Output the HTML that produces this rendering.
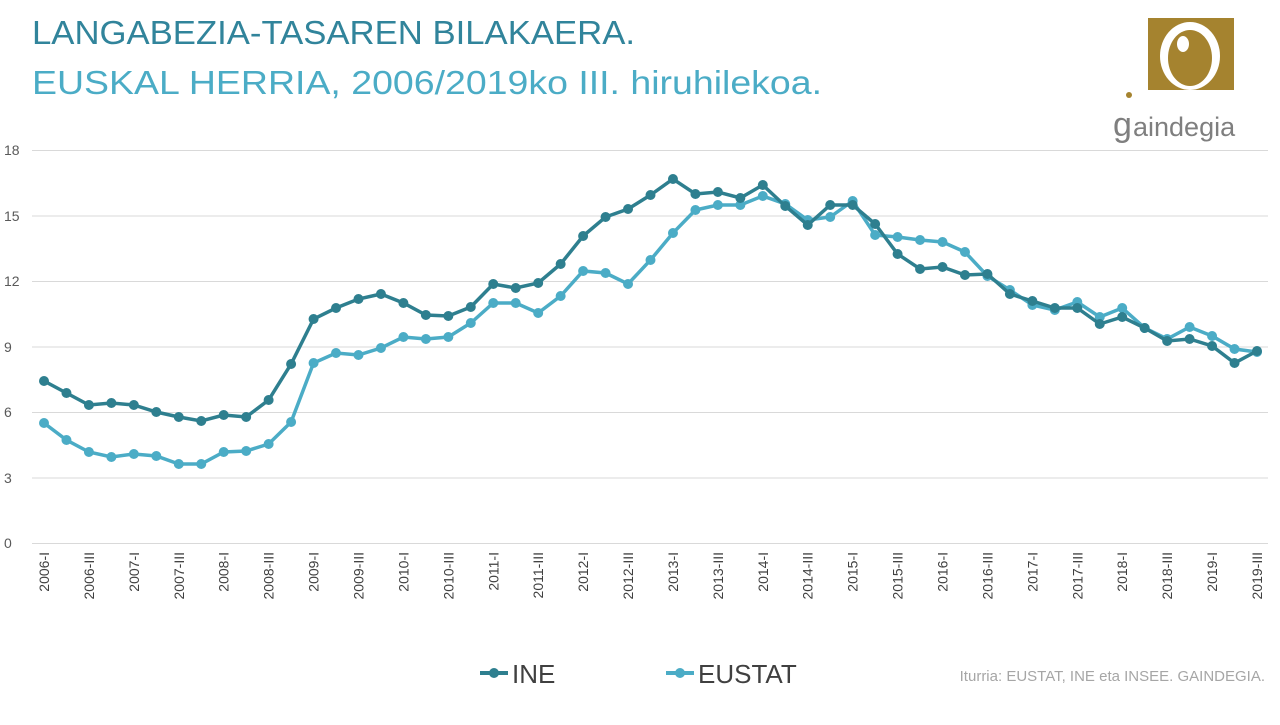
<!DOCTYPE html>
<html><head><meta charset="utf-8"><style>
body{margin:0;width:1280px;height:720px;background:#fff;overflow:hidden;font-family:"Liberation Sans",sans-serif;}
</style></head><body>
<svg width="1280" height="720" xmlns="http://www.w3.org/2000/svg" font-family="Liberation Sans, sans-serif">
<text x="32" y="44" font-size="33" fill="#31849b" textLength="603" lengthAdjust="spacingAndGlyphs">LANGABEZIA-TASAREN BILAKAERA.</text>
<text x="32" y="94" font-size="33" fill="#4bacc6" textLength="790" lengthAdjust="spacingAndGlyphs">EUSKAL HERRIA, 2006/2019ko III. hiruhilekoa.</text>
<rect x="1148" y="18" width="86" height="72" fill="#a5832f"/>
<ellipse cx="1190" cy="56" rx="30" ry="34" fill="#fff"/>
<ellipse cx="1190" cy="58" rx="22" ry="28" fill="#a5832f"/>
<ellipse cx="1183" cy="44" rx="6" ry="8" fill="#fff"/>
<circle cx="1129" cy="95" r="3" fill="#a5832f"/>
<text x="1113" y="136" font-size="34" fill="#7f7f7f">g</text>
<text x="1133" y="136" font-size="27" fill="#7f7f7f">aindegia</text>
<g stroke="#d9d9d9" stroke-width="1">
<line x1="32" y1="150.5" x2="1268" y2="150.5"/><line x1="32" y1="216" x2="1268" y2="216"/>
<line x1="32" y1="281.5" x2="1268" y2="281.5"/><line x1="32" y1="347" x2="1268" y2="347"/>
<line x1="32" y1="412.5" x2="1268" y2="412.5"/><line x1="32" y1="478" x2="1268" y2="478"/>
<line x1="32" y1="543.5" x2="1268" y2="543.5"/>
</g>
<g font-size="14" fill="#595959" text-anchor="start">
<text x="4" y="155">18</text><text x="4" y="221">15</text><text x="4" y="286">12</text>
<text x="4" y="352">9</text><text x="4" y="417">6</text><text x="4" y="483">3</text><text x="4" y="548">0</text>
</g>
<g id="xl" font-size="14" fill="#404040" text-anchor="end"></g>
<g id="lines"></g>
<line x1="480" y1="673" x2="508" y2="673" stroke="#2e7f8f" stroke-width="4"/><circle cx="494" cy="673" r="5" fill="#2e7f8f"/>
<text x="512" y="683" font-size="26" fill="#404040">INE</text>
<line x1="666" y1="673" x2="694" y2="673" stroke="#4bacc6" stroke-width="4"/><circle cx="680" cy="673" r="5" fill="#4bacc6"/>
<text x="698" y="683" font-size="26" fill="#404040">EUSTAT</text>
<text x="1265" y="681" font-size="15" fill="#a6a6a6" text-anchor="end">Iturria: EUSTAT, INE eta INSEE. GAINDEGIA.</text>
</svg>
<script>
var ine=[381,393,405,403,405,412,417,421,415,417,400,364,319,308,299,294,303,315,316,307,284,288,283,264,236,217,209,195,179,194,192,198,185,206,225,205,205,224,254,269,267,275,274,294,301,308,308,324,317,328,341,339,346,363,351];
var eus=[423,440,452,457,454,456,464,464,452,451,444,422,363,353,355,348,337,339,337,323,303,303,313,296,271,273,284,260,233,210,205,205,196,204,220,217,201,235,237,240,242,252,276,290,305,310,302,317,308,328,339,327,336,349,352];
var NS="http://www.w3.org/2000/svg";
function X(i){return 44+i*1213/54;}
var g=document.getElementById('lines');
function draw(d,c){var p=document.createElementNS(NS,'polyline');p.setAttribute('points',d.map(function(v,i){return X(i)+','+v}).join(' '));p.setAttribute('fill','none');p.setAttribute('stroke',c);p.setAttribute('stroke-width','3.5');g.appendChild(p);
d.forEach(function(v,i){var q=document.createElementNS(NS,'circle');q.setAttribute('cx',X(i));q.setAttribute('cy',v);q.setAttribute('r','5');q.setAttribute('fill',c);g.appendChild(q);});}
draw(eus,'#4bacc6');draw(ine,'#2e7f8f');
var xl=document.getElementById('xl');
for(var i=0;i<55;i+=2){var y=2006+Math.floor(i/4);var q=(i%4==0)?'I':'III';var t=document.createElementNS(NS,'text');var x=X(i)+5;t.setAttribute('transform','translate('+x+',552) rotate(-90)');t.textContent=y+'-'+q;xl.appendChild(t);}
</script>
</body></html>
